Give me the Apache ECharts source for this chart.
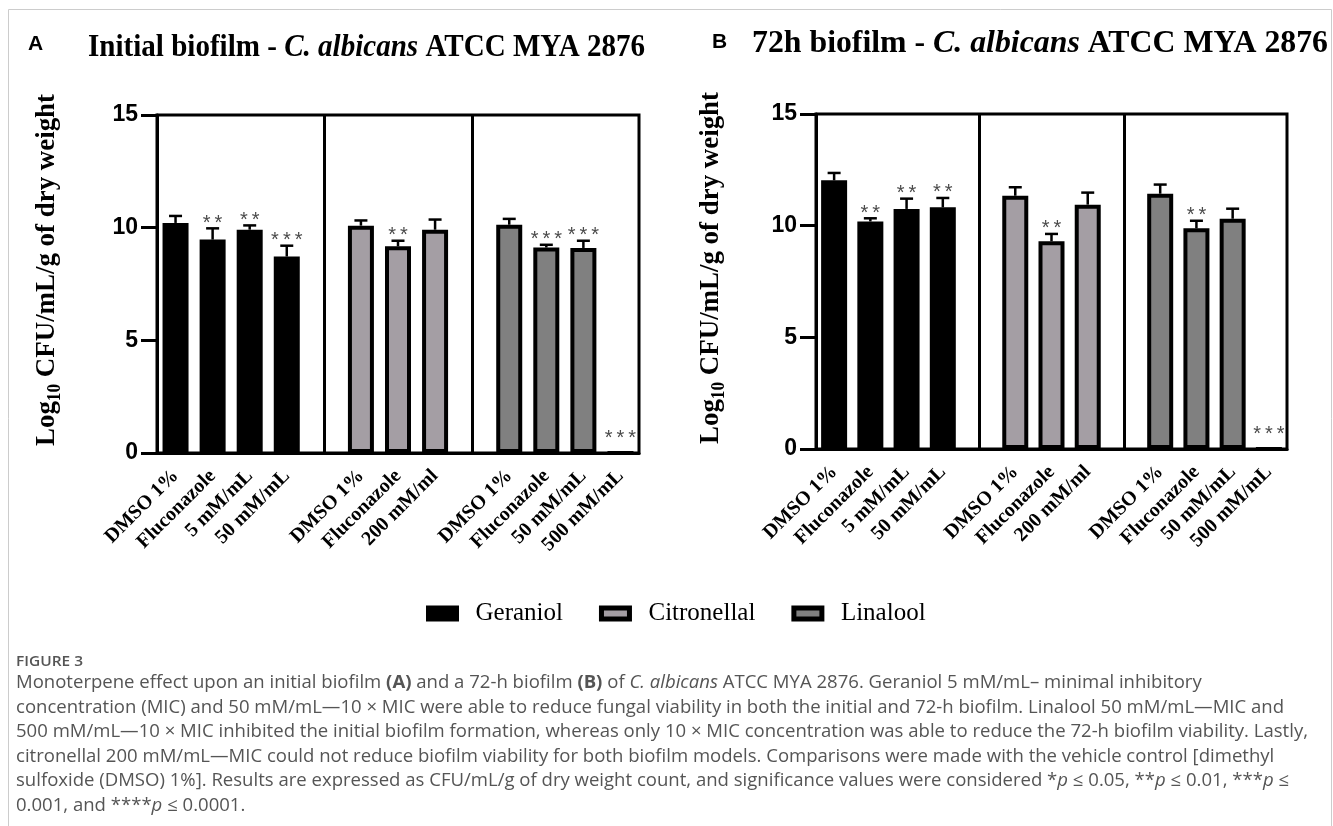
<!DOCTYPE html>
<html><head><meta charset="utf-8">
<script src="https://cdn.jsdelivr.net/npm/echarts@6.0.0/dist/echarts.min.js"></script>
<style>html,body{margin:0;padding:0;background:#fff;}#chart{width:1333px;height:826px;}</style>
</head><body><div id="chart"></div>
<script>
// ---------------- data ----------------
const compounds = ['Geraniol', 'Citronellal', 'Linalool'];
const geraniolLabels = ['DMSO 1%', 'Fluconazole', '5 mM/mL', '50 mM/mL'];
const citronellalLabels = ['DMSO 1%', 'Fluconazole', '200 mM/ml'];
const linaloolLabels = ['DMSO 1%', 'Fluconazole', '50 mM/mL', '500 mM/mL'];
const yTicks = [0, 5, 10, 15];

// Panel A: initial biofilm (log10 CFU/mL/g)
const initGeraniol = [10.21, 9.47, 9.91, 8.72];
const initGeraniolErr = [0.31, 0.50, 0.19, 0.48];
const initGeraniolSig = ['', '**', '**', '***'];
const initCitronellal = [10.09, 9.17, 9.91];
const initCitronellalErr = [0.23, 0.25, 0.45];
const initCitronellalSig = ['', '**', ''];
const initLinalool = [10.13, 9.12, 9.10, 0];
const initLinaloolErr = [0.26, 0.12, 0.32, 0];
const initLinaloolSig = ['', '***', '***', '***'];

// Panel B: 72h biofilm
const h72Geraniol = [12.03, 10.19, 10.75, 10.82];
const h72GeraniolErr = [0.33, 0.14, 0.46, 0.42];
const h72GeraniolSig = ['', '**', '**', '**'];
const h72Citronellal = [11.34, 9.30, 10.94];
const h72CitronellalErr = [0.38, 0.33, 0.54];
const h72CitronellalSig = ['', '**', ''];
const h72Linalool = [11.43, 9.88, 10.31, 0];
const h72LinaloolErr = [0.41, 0.34, 0.45, 0];
const h72LinaloolSig = ['', '**', '', '***'];

// ---------------- build ----------------
const groupLabels = [geraniolLabels, citronellalLabels, linaloolLabels];
const slots = [];
groupLabels.forEach((labs, g) => {
  if (g > 0) slots.push({ label: '', group: -1 });
  labs.forEach((l, i) => slots.push({ label: l, group: g, idx: i }));
});
const dividerSlots = slots.map((s, i) => (s.group < 0 ? i : -1)).filter(i => i >= 0);

const fills = ['#000000', '#a49ea4', '#808080'];
const SERIF = 'Liberation Serif';
const SANS = 'Liberation Sans';

const mctx = document.createElement('canvas').getContext('2d');
function measure(parts) {
  let w = 0;
  parts.forEach(([t, f]) => { mctx.font = f; w += mctx.measureText(t).width; });
  return w;
}

function panelSeries(p, values, errs, sigs) {
  const out = [];
  compounds.forEach((name, g) => {
    const s = {
      type: 'bar', name, xAxisIndex: p, yAxisIndex: p, stack: 'st' + p,
      barWidth: 26,
      data: slots.map(sl => (sl.group === g ? values[g][sl.idx] : '-')),
      itemStyle: { color: fills[g], borderColor: '#000', borderWidth: 4 },
      emphasis: { disabled: true },
      z: 2
    };
    if (g === 0) {
      s.markLine = {
        silent: true, symbol: 'none', animation: false,
        label: { show: false },
        lineStyle: { color: '#000', width: 3, type: 'solid' },
        emphasis: { disabled: true },
        data: dividerSlots.map(i => ({ xAxis: i }))
      };
    }
    out.push(s);
  });
  const errData = [], errSig = [];
  slots.forEach((sl, i) => {
    if (sl.group >= 0) {
      errData.push([i, values[sl.group][sl.idx], errs[sl.group][sl.idx]]);
      errSig.push(sigs[sl.group][sl.idx]);
    }
  });
  out.push({
    type: 'custom', xAxisIndex: p, yAxisIndex: p, silent: true, z: 5,
    data: errData,
    renderItem: function (params, api) {
      const xi = api.value(0), v = api.value(1), e = api.value(2);
      const pv = api.coord([xi, v]);
      const pt = api.coord([xi, v + e]);
      const children = [];
      if (e > 0) {
        children.push({ type: 'line', shape: { x1: pv[0], y1: pv[1], x2: pt[0], y2: pt[1] }, style: { stroke: '#000', lineWidth: 2.5 } });
        children.push({ type: 'line', shape: { x1: pt[0] - 6.5, y1: pt[1], x2: pt[0] + 6.5, y2: pt[1] }, style: { stroke: '#000', lineWidth: 2.5 } });
      }
      const sig = errSig[params.dataIndex];
      if (sig) {
        children.push({
          type: 'text', x: pt[0], y: pt[1] - (v > 0 ? 5 : 15),
          style: { text: sig.split('').join('\u2009'), align: 'center', verticalAlign: 'middle', fontSize: 20, fontFamily: SANS, fill: '#4a4a4a' }
        });
      }
      return { type: 'group', children };
    }
  });
  return out;
}

const grids = [
  { left: 157, top: 115, width: 482, height: 338 },
  { left: 816, top: 114, width: 471, height: 335 }
];

function xAxis(p) {
  return {
    type: 'category', gridIndex: p, data: slots.map((s, i) => String(i)),
    axisLine: { lineStyle: { color: '#000', width: 3 } },
    axisTick: { alignWithLabel: true, length: 14, lineStyle: { color: '#000', width: 3 }, interval: (i) => slots[i].group >= 0 },
    axisLabel: { interval: 0, rotate: 45, margin: 20, fontFamily: SERIF, fontWeight: 'bold', fontSize: 20, color: '#000',
      formatter: (v, i) => slots[i].label }
  };
}
function yAxis(p) {
  return {
    type: 'value', gridIndex: p, min: yTicks[0], max: yTicks[yTicks.length - 1], interval: yTicks[1] - yTicks[0],
    splitLine: { show: false },
    axisLine: { show: true, lineStyle: { color: '#000', width: 3 } },
    axisTick: { show: true, length: 16, lineStyle: { color: '#000', width: 3 } },
    axisLabel: { margin: 19, fontFamily: SANS, fontWeight: 'bold', fontSize: 23, color: '#000' }
  };
}

const TFS = 31;
const titleRich = {
  n: { fontFamily: SERIF, fontWeight: 'bold', fontSize: TFS, fill: '#000' },
  i: { fontFamily: SERIF, fontWeight: 'bold', fontStyle: 'italic', fontSize: TFS, fill: '#000' }
};
function titleWidth(pre) {
  return measure([[pre, `bold ${TFS}px "${SERIF}"`], ['C. albicans', `italic bold ${TFS}px "${SERIF}"`], [' ATCC MYA 2876', `bold ${TFS}px "${SERIF}"`]]);
}
const scaleTA = 557 / titleWidth('Initial biofilm - ');
const scaleTB = 576 / titleWidth('72h biofilm - ');

const ylabRich = {
  n: { fontFamily: SERIF, fontWeight: 'bold', fontSize: 28, fill: '#000', lineHeight: 34 },
  s: { fontFamily: SERIF, fontWeight: 'bold', fontSize: 18, fill: '#000', lineHeight: 18, verticalAlign: 'bottom' }
};
const ylabW = measure([['Log', `bold 28px "${SERIF}"`], ['10', `bold 18px "${SERIF}"`], [' CFU/mL/g of dry weight', `bold 28px "${SERIF}"`]]);
const ylabScale = 352 / ylabW;

const CFS = 18;
const line3 = '500 mM/mL\u201410 \u00d7 MIC inhibited the initial biofilm formation, whereas only 10 \u00d7 MIC concentration was able to reduce the 72-h biofilm viability. Lastly,';
const capScale = 1292 / measure([[line3, `${CFS}px "Open Sans"`]]);
const capRich = {
  b: { fontFamily: 'Open Sans', fontWeight: 'bold', fontSize: CFS, fill: '#555' },
  i: { fontFamily: 'Open Sans', fontStyle: 'italic', fontSize: CFS, fill: '#555' }
};
const captionLines = [
  'Monoterpene effect upon an initial biofilm {b|(A)} and a 72-h biofilm {b|(B)} of {i|C. albicans} ATCC MYA 2876. Geraniol 5 mM/mL\u2013 minimal inhibitory',
  'concentration (MIC) and 50 mM/mL\u201410 \u00d7 MIC were able to reduce fungal viability in both the initial and 72-h biofilm. Linalool 50 mM/mL\u2014MIC and',
  line3,
  'citronellal 200 mM/mL\u2014MIC could not reduce biofilm viability for both biofilm models. Comparisons were made with the vehicle control [dimethyl',
  'sulfoxide (DMSO) 1%]. Results are expressed as CFU/mL/g of dry weight count, and significance values were considered *{i|p} \u2264 0.05, **{i|p} \u2264 0.01, ***{i|p} \u2264',
  '0.001, and ****{i|p} \u2264 0.0001.'
];

const graphic = [
  { type: 'rect', silent: true, shape: { x: 8.5, y: 9.5, width: 1323, height: 840 }, style: { fill: 'none', stroke: '#cccccc', lineWidth: 1 } },
  { type: 'text', x: 28, y: 44, style: { text: 'A', fontFamily: SANS, fontWeight: 'bold', fontSize: 21, fill: '#000', verticalAlign: 'middle' } },
  { type: 'text', x: 712, y: 42, style: { text: 'B', fontFamily: SANS, fontWeight: 'bold', fontSize: 21, fill: '#000', verticalAlign: 'middle' } },
  { type: 'text', x: 88, y: 48, scaleX: scaleTA, style: { text: '{n|Initial biofilm - }{i|C. albicans}{n| ATCC MYA 2876}', rich: titleRich, verticalAlign: 'middle' } },
  { type: 'text', x: 752, y: 44, scaleX: scaleTB, style: { text: '{n|72h biofilm - }{i|C. albicans}{n| ATCC MYA 2876}', rich: titleRich, verticalAlign: 'middle' } },
  { type: 'text', x: 47, y: 270, rotation: Math.PI / 2, scaleX: ylabScale, style: { text: '{n|Log}{s|10}{n| CFU/mL/g of dry weight}', rich: ylabRich, align: 'center', verticalAlign: 'middle' } },
  { type: 'text', x: 711, y: 268, rotation: Math.PI / 2, scaleX: ylabScale, style: { text: '{n|Log}{s|10}{n| CFU/mL/g of dry weight}', rich: ylabRich, align: 'center', verticalAlign: 'middle' } },
  { type: 'text', x: 16, y: 662, scaleX: capScale, style: { text: 'FIGURE 3', fontFamily: 'Open Sans', fontWeight: 600, fontSize: 15, fill: '#555', verticalAlign: 'middle' } }
];
captionLines.forEach((t, k) => {
  graphic.push({ type: 'text', x: 16, y: 683 + k * 24.5, scaleX: capScale, style: { text: t, rich: capRich, fontFamily: 'Open Sans', fontSize: CFS, fill: '#555', verticalAlign: 'middle' } });
});

const chart = echarts.init(document.getElementById('chart'), null, { renderer: 'canvas' });
chart.setOption({
  animation: false,
  backgroundColor: '#fff',
  grid: grids.map(g => Object.assign({ show: true, borderColor: '#000', borderWidth: 3, backgroundColor: 'transparent' }, g)),
  xAxis: [xAxis(0), xAxis(1)],
  yAxis: [yAxis(0), yAxis(1)],
  legend: {
    left: 421, top: 596, itemWidth: 28, itemHeight: 11, itemGap: 36, icon: 'rect',
    textStyle: { fontFamily: SERIF, fontSize: 25, color: '#000', padding: [0, 0, 0, 14] },
    data: compounds.map((c, g) => ({ name: c, itemStyle: { color: fills[g], borderColor: '#000', borderWidth: 5 } }))
  },
  series: [
    ...panelSeries(0, [initGeraniol, initCitronellal, initLinalool], [initGeraniolErr, initCitronellalErr, initLinaloolErr], [initGeraniolSig, initCitronellalSig, initLinaloolSig]),
    ...panelSeries(1, [h72Geraniol, h72Citronellal, h72Linalool], [h72GeraniolErr, h72CitronellalErr, h72LinaloolErr], [h72GeraniolSig, h72CitronellalSig, h72LinaloolSig])
  ],
  graphic: graphic
});
</script></body></html>
